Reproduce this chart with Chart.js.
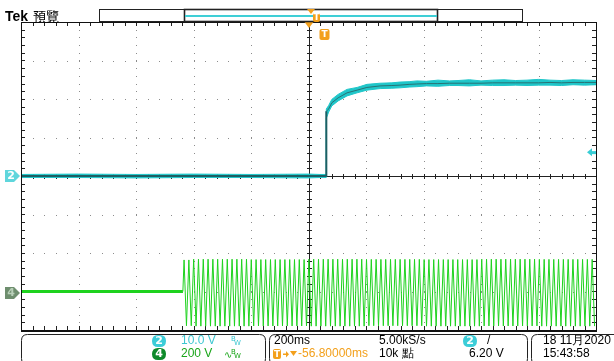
<!DOCTYPE html>
<html>
<head>
<meta charset="utf-8">
<script src="https://cdn.jsdelivr.net/npm/chart.js@4.4.1/dist/chart.umd.min.js"></script>
<style>
  html, body { margin: 0; padding: 0; background: #fff; }
  #scope { display: block; }
</style>
</head>
<body>
<canvas id="scope" width="614" height="361"></canvas>
<script>
// ---- Scope capture, values ----

// horizontal: 200 ms/div, 10 divisions, trigger at centre
const TIME_MIN = -1000;
const TIME_MAX = 1000;
const DIV_MIN = -4;
const DIV_MAX = 4;

// CH2 (10.0 V/div, ground at 0 div)
const CH2_VOLTS_PER_DIV = 10;
const ch2Time = [-1000, -800, -600, -400, -200, 0, 40, 61, 62, 70, 81, 103, 134, 169, 203, 249, 290, 318, 350, 377, 410, 450, 490, 520, 560, 600, 640, 680, 720, 760, 800, 840, 880, 920, 960, 1000];
const ch2Mean = [0, 0, 0, 0, 0, 0, 0, 0, 16.8, 17.4, 19.0, 20.3, 21.6, 22.3, 23.0, 23.4, 23.5, 23.6, 23.8, 23.9, 24.0, 24.0, 24.1, 24.1, 24.1, 24.1, 24.2, 24.2, 24.2, 24.2, 24.2, 24.3, 24.2, 24.3, 24.3, 24.3];
const ch2High = [0.4, 0.5, 0.4, 0.5, 0.4, 0.5, 0.4, 0.4, 17.4, 18.3, 19.9, 21.2, 22.5, 23.0, 23.8, 24.1, 24.2, 24.4, 24.5, 24.7, 24.6, 24.9, 24.7, 24.8, 25.0, 24.7, 24.9, 25.0, 24.8, 24.9, 25.1, 24.9, 24.8, 25.0, 24.9, 24.8];
const ch2Low = [-0.4, -0.4, -0.5, -0.4, -0.4, -0.5, -0.4, -0.4, 15.0, 16.6, 18.2, 19.5, 20.8, 21.6, 22.3, 22.7, 22.8, 22.9, 23.1, 23.2, 23.4, 23.3, 23.5, 23.5, 23.4, 23.6, 23.5, 23.5, 23.6, 23.5, 23.6, 23.6, 23.5, 23.7, 23.6, 23.7];
const CH2_TRIGGER_LEVEL = 6.2; // V

// CH4 (200 V/div, ground marker a little under -3 div)
const CH4_VOLTS_PER_DIV = 200;
const CH4_OFFSET_DIV = -3.04;
const ch4IdleTime = [-1000, -437];
const ch4IdleVolts = [8, 8];
const ch4BurstStart = -437;   // ms
const ch4Period = 16.7;       // ms, mains cycle
// peak and trough per 200 ms of the screen (first two divisions are idle)
const ch4PeakTop = [0, 0, 172, 176, 174, 176, 175, 174, 176, 175];
const ch4PeakBottom = [0, 0, -170, -172, -171, -172, -170, -172, -171, -172];

// ---- build the traces in screen divisions ----
const ch2ToDiv = v => v / CH2_VOLTS_PER_DIV;
const ch4ToDiv = v => v / CH4_VOLTS_PER_DIV + CH4_OFFSET_DIV;

const ch2MeanPts = ch2Time.map((t, i) => ({ x: t, y: ch2ToDiv(ch2Mean[i]) }));
const ch2HighPts = ch2Time.map((t, i) => ({ x: t, y: ch2ToDiv(ch2High[i]) }));
const ch2LowPts = ch2Time.map((t, i) => ({ x: t, y: ch2ToDiv(ch2Low[i]) }));

const ch4Pts = ch4IdleTime.map((t, i) => ({ x: t, y: ch4ToDiv(ch4IdleVolts[i]) }));
let half = 0;
for (let t = ch4BurstStart + ch4Period / 4; t <= TIME_MAX; t += ch4Period / 2) {
  const seg = Math.min(9, Math.floor((t - TIME_MIN) / 200));
  const v = half % 2 === 0 ? ch4PeakTop[seg] : ch4PeakBottom[seg];
  ch4Pts.push({ x: t, y: ch4ToDiv(v) });
  half++;
}

const CYAN = '#1fc6c9';
const TEAL = '#2a7174';
const GREEN = '#1ed21e';
const ORANGE = '#f3a01c';
const STATUS_FONT = '12px "Liberation Sans", Arial, sans-serif';

function roundRect(ctx, x, y, w, h, r) {
  ctx.beginPath();
  ctx.moveTo(x + r, y);
  ctx.lineTo(x + w - r, y);
  ctx.quadraticCurveTo(x + w, y, x + w, y + r);
  ctx.lineTo(x + w, y + h - r);
  ctx.quadraticCurveTo(x + w, y + h, x + w - r, y + h);
  ctx.lineTo(x + r, y + h);
  ctx.quadraticCurveTo(x, y + h, x, y + h - r);
  ctx.lineTo(x, y + r);
  ctx.quadraticCurveTo(x, y, x + r, y);
  ctx.closePath();
}

function badge(ctx, cx, cy, txt, fill) {
  ctx.fillStyle = fill;
  roundRect(ctx, cx - 7, cy - 6, 14, 12, 6);
  ctx.fill();
  ctx.fillStyle = '#fff';
  ctx.font = 'bold 11px "DejaVu Sans", sans-serif';
  ctx.textAlign = 'center';
  ctx.textBaseline = 'middle';
  ctx.fillText(txt, cx, cy + 0.5);
}

function tBadge(ctx, x, y, w, h) {
  ctx.fillStyle = ORANGE;
  roundRect(ctx, x, y, w, h, 2);
  ctx.fill();
  ctx.fillStyle = '#fff';
  ctx.font = 'bold 9px "DejaVu Sans", sans-serif';
  ctx.textAlign = 'center';
  ctx.textBaseline = 'middle';
  ctx.fillText('T', x + w / 2, y + h / 2 + 0.5);
}

// graticule: dotted divisions, solid centre cross with ticks, ticked border
const graticule = {
  id: 'graticule',
  beforeDatasetsDraw(chart) {
    const { ctx, chartArea: a, scales: { x, y } } = chart;
    ctx.save();
    ctx.fillStyle = '#8c8c8c';
    for (let d = TIME_MIN; d <= TIME_MAX; d += 200) {
      if (d === 0 || d === TIME_MIN || d === TIME_MAX) continue;
      const px = Math.round(x.getPixelForValue(d));
      for (let v = DIV_MIN; v <= DIV_MAX; v += 0.2) {
        ctx.fillRect(px, Math.round(y.getPixelForValue(v)), 1, 1);
      }
    }
    for (let v = DIV_MIN + 1; v < DIV_MAX; v++) {
      if (v === 0) continue;
      const py = Math.round(y.getPixelForValue(v));
      for (let d = TIME_MIN; d <= TIME_MAX; d += 40) {
        ctx.fillRect(Math.round(x.getPixelForValue(d)), py, 1, 1);
      }
    }
    // centre cross
    ctx.fillStyle = '#222';
    const cx = Math.round(x.getPixelForValue(0));
    const cy = Math.round(y.getPixelForValue(0));
    ctx.fillRect(cx, a.top, 1, a.bottom - a.top);
    ctx.fillRect(a.left, cy, a.right - a.left, 1);
    for (let d = TIME_MIN; d <= TIME_MAX; d += 40) {
      const px = Math.round(x.getPixelForValue(d));
      ctx.fillRect(px, cy - 2, 1, 5);
      ctx.fillRect(px, a.top, 1, 4);
      ctx.fillRect(px, a.bottom - 4, 1, 4);
    }
    for (let v = DIV_MIN; v <= DIV_MAX; v += 0.2) {
      const py = Math.round(y.getPixelForValue(v));
      ctx.fillRect(cx - 2, py, 5, 1);
      ctx.fillRect(a.left, py, 4, 1);
      ctx.fillRect(a.right - 4, py, 4, 1);
    }
    ctx.restore();
  },
  afterDatasetsDraw(chart) {
    const { ctx, chartArea: a, scales: { x, y } } = chart;
    ctx.save();
    ctx.strokeStyle = '#111';
    ctx.lineWidth = 1;
    ctx.strokeRect(a.left + 0.5, a.top + 0.5, a.right - a.left, a.bottom - a.top);
    ctx.fillStyle = '#111';
    ctx.fillRect(a.left, a.bottom, a.right - a.left + 1, 2);

    // channel ground markers
    const y2 = y.getPixelForValue(0);
    ctx.fillStyle = '#5fd6dc';
    ctx.beginPath();
    ctx.moveTo(5, y2 - 6); ctx.lineTo(14, y2 - 6); ctx.lineTo(20, y2);
    ctx.lineTo(14, y2 + 6); ctx.lineTo(5, y2 + 6); ctx.closePath(); ctx.fill();
    ctx.fillStyle = '#fff';
    ctx.font = 'bold 11px "DejaVu Sans", sans-serif';
    ctx.textAlign = 'center'; ctx.textBaseline = 'middle';
    ctx.fillText('2', 11, y2 + 0.5);

    const y4 = y.getPixelForValue(CH4_OFFSET_DIV);
    ctx.fillStyle = '#6e8e6e';
    ctx.beginPath();
    ctx.moveTo(5, y4 - 6); ctx.lineTo(14, y4 - 6); ctx.lineTo(20, y4);
    ctx.lineTo(14, y4 + 6); ctx.lineTo(5, y4 + 6); ctx.closePath(); ctx.fill();
    ctx.fillStyle = '#b9d0b9';
    ctx.fillText('4', 11, y4 + 0.5);

    // trigger level arrow on the right edge
    const yt = y.getPixelForValue(CH2_TRIGGER_LEVEL / CH2_VOLTS_PER_DIV);
    ctx.fillStyle = '#38cdd5';
    ctx.beginPath();
    ctx.moveTo(587, yt); ctx.lineTo(592, yt - 4); ctx.lineTo(592, yt + 4); ctx.closePath(); ctx.fill();
    ctx.fillRect(591, yt - 1, 5, 3);

    // trigger position at the top
    const xt = x.getPixelForValue(0);
    ctx.fillStyle = ORANGE;
    ctx.beginPath();
    ctx.moveTo(xt - 4, a.top); ctx.lineTo(xt + 5, a.top); ctx.lineTo(xt + 0.5, a.top + 6); ctx.closePath(); ctx.fill();
    tBadge(ctx, xt + 11, a.top + 7, 10, 11);
    ctx.restore();
  },
  afterDraw(chart) {
    const { ctx } = chart;
    ctx.save();
    // header
    ctx.fillStyle = '#000';
    ctx.textAlign = 'left'; ctx.textBaseline = 'alphabetic';
    ctx.font = 'bold 14px "Liberation Sans", Arial, sans-serif';
    ctx.fillText('Tek', 5, 21);
    ctx.font = '13px "Noto Sans CJK TC", sans-serif';
    ctx.fillText('預覽', 33, 21);

    // record view bar
    ctx.strokeStyle = '#222';
    ctx.lineWidth = 1;
    ctx.strokeRect(99.5, 9.5, 423, 12);
    ctx.lineWidth = 1.6;
    ctx.strokeRect(184.5, 9.5, 253, 12);
    ctx.fillStyle = '#3fcfd6';
    ctx.fillRect(185, 15, 252, 2);
    ctx.fillStyle = ORANGE;
    ctx.beginPath();
    ctx.moveTo(307, 9); ctx.lineTo(315, 9); ctx.lineTo(311, 14); ctx.closePath(); ctx.fill();
    tBadge(ctx, 313, 13, 7, 9);

    // status panels
    ctx.strokeStyle = '#222';
    ctx.lineWidth = 1;
    roundRect(ctx, 21.5, 334.5, 244, 30, 6); ctx.stroke();
    roundRect(ctx, 269.5, 334.5, 258, 30, 6); ctx.stroke();
    roundRect(ctx, 531.5, 334.5, 90, 30, 6); ctx.stroke();

    const r1 = 341, r2 = 354;
    badge(ctx, 159, r1, '2', '#3ccdd8');
    badge(ctx, 159, r2, '4', '#0e8a2a');
    ctx.font = STATUS_FONT;
    ctx.textAlign = 'left'; ctx.textBaseline = 'middle';
    ctx.fillStyle = '#3cc6d0';
    ctx.fillText('10.0 V', 181, r1);
    ctx.fillStyle = '#1aa51a';
    ctx.fillText('200 V', 181, r2);
    ctx.font = '7px "DejaVu Sans", sans-serif';
    ctx.fillStyle = '#3cc6d0';
    ctx.fillText('B', 231, r1 - 2); ctx.fillText('W', 234, r1 + 2);
    ctx.fillStyle = '#1aa51a';
    ctx.font = '10px "DejaVu Sans", sans-serif';
    ctx.fillText('∿', 224, r2 + 1);
    ctx.font = '7px "DejaVu Sans", sans-serif';
    ctx.fillText('B', 231, r2 - 2); ctx.fillText('W', 234, r2 + 2);

    ctx.font = STATUS_FONT;
    ctx.fillStyle = '#000';
    ctx.fillText('200ms', 274, r1);
    ctx.fillText('5.00kS/s', 379, r1);
    ctx.fillText('10k 點', 379, r2);
    ctx.fillText('6.20 V', 469, r2);
    badge(ctx, 470, r1, '2', '#3ccdd8');
    ctx.font = STATUS_FONT;
    ctx.textAlign = 'left'; ctx.textBaseline = 'middle';
    ctx.fillStyle = '#000';
    ctx.fillText('/', 487, r1);

    // trigger offset readout: T icon, small arrow, down triangle, value
    tBadge(ctx, 273, r2 - 5, 8, 10);
    ctx.fillStyle = ORANGE;
    ctx.fillRect(283, r2 - 0.5, 4, 1.5);
    ctx.beginPath();
    ctx.moveTo(286, r2 - 3); ctx.lineTo(289, r2 + 0.25); ctx.lineTo(286, r2 + 3.5); ctx.closePath(); ctx.fill();
    ctx.beginPath();
    ctx.moveTo(290, r2 - 3); ctx.lineTo(297, r2 - 3); ctx.lineTo(293.5, r2 + 2); ctx.closePath(); ctx.fill();
    ctx.font = STATUS_FONT;
    ctx.textAlign = 'left'; ctx.textBaseline = 'middle';
    ctx.fillText('-56.80000ms', 298, r2);

    ctx.fillStyle = '#000';
    ctx.fillText('18 11月2020', 543, r1);
    ctx.fillText('15:43:58', 543, r2);
    ctx.restore();
  }
};

new Chart(document.getElementById('scope'), {
  type: 'line',
  data: {
    datasets: [
      {
        label: 'CH2 high',
        data: ch2HighPts,
        borderColor: CYAN,
        backgroundColor: CYAN,
        borderWidth: 1,
        fill: '+1',
        order: 3,
      },
      {
        label: 'CH2 low',
        data: ch2LowPts,
        borderColor: CYAN,
        borderWidth: 1,
        fill: false,
        order: 3,
      },
      {
        label: 'CH2',
        data: ch2MeanPts,
        borderColor: TEAL,
        borderWidth: 1,
        segment: {
          borderWidth: c => (c.p1.parsed.x <= 62 ? 2 : 1),
          borderColor: c => (c.p1.parsed.x <= 62 ? '#1d5f63' : TEAL),
        },
        fill: false,
        order: 2,
      },
      {
        label: 'CH4',
        data: ch4Pts,
        borderColor: GREEN,
        borderWidth: 1,
        segment: {
          borderWidth: c => (c.p1.parsed.x <= ch4BurstStart ? 3 : 1),
        },
        fill: false,
        order: 1,
      },
    ]
  },
  options: {
    responsive: false,
    animation: false,
    devicePixelRatio: 1,
    parsing: false,
    elements: { point: { radius: 0 }, line: { tension: 0 } },
    layout: { padding: { left: 21, right: 18, top: 22, bottom: 31 } },
    plugins: { legend: { display: false }, tooltip: { enabled: false } },
    scales: {
      x: { type: 'linear', min: TIME_MIN, max: TIME_MAX, display: false },
      y: { type: 'linear', min: DIV_MIN, max: DIV_MAX, display: false },
    },
  },
  plugins: [graticule],
});
</script>
</body>
</html>
